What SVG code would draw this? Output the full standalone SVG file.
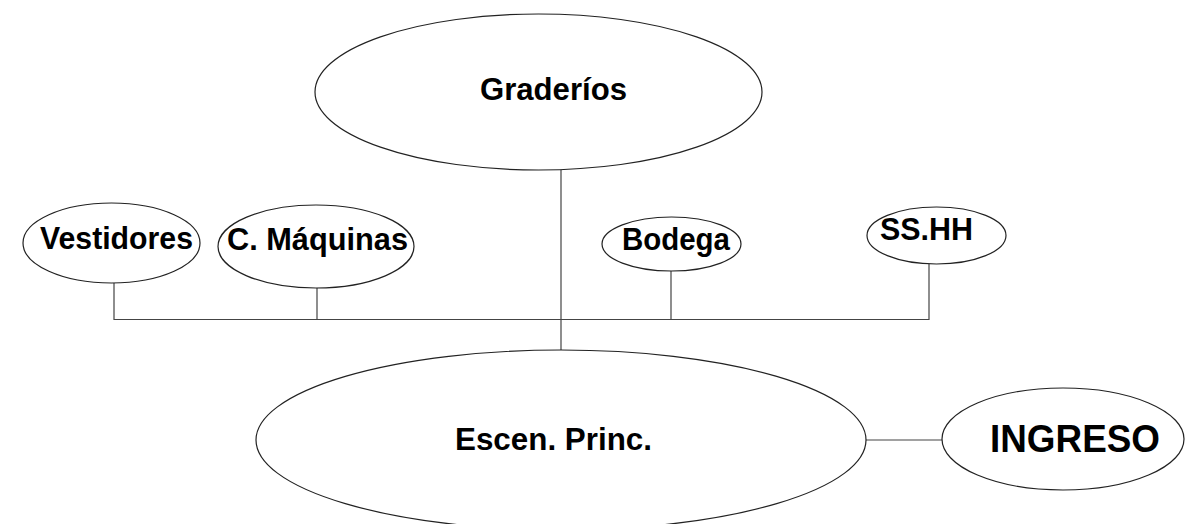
<svg xmlns="http://www.w3.org/2000/svg" width="1186" height="524" viewBox="0 0 1186 524">
<style>
.n{fill:#fff;stroke:#222;stroke-width:1.2}
.t{font-family:"Liberation Sans",Arial,sans-serif;font-weight:bold;font-size:31px;fill:#000;text-anchor:middle}
.c{fill:none;stroke:#444;stroke-width:1.2}
</style>
<rect width="1186" height="524" fill="#fff"/>
<g id="connectors">
<line class="c" x1="561" y1="170" x2="561" y2="351"/>
<polyline class="c" points="114,283 114,319.5 929,319.5 929,264"/>
<line class="c" x1="317" y1="288" x2="317" y2="319.5"/>
<line class="c" x1="671" y1="271" x2="671" y2="319.5"/>
<line class="c" x1="866" y1="440" x2="942" y2="440"/>
</g>
<g id="graderios"><ellipse class="n" cx="538.5" cy="92" rx="223.5" ry="78"/><text class="t" x="553.5" y="100" textLength="147" lengthAdjust="spacingAndGlyphs">Graderíos</text></g>
<g id="vestidores"><ellipse class="n" cx="111.5" cy="243" rx="88.5" ry="40"/><text class="t" x="116.5" y="249" textLength="153" lengthAdjust="spacingAndGlyphs">Vestidores</text></g>
<g id="maquinas"><ellipse class="n" cx="316" cy="246.5" rx="98" ry="41.5"/><text class="t" x="317.5" y="250" textLength="181" lengthAdjust="spacingAndGlyphs">C. Máquinas</text></g>
<g id="bodega"><ellipse class="n" cx="671.5" cy="244" rx="69.5" ry="27"/><text class="t" x="676" y="250" textLength="108" lengthAdjust="spacingAndGlyphs">Bodega</text></g>
<g id="sshh"><ellipse class="n" cx="936.5" cy="235.5" rx="69.5" ry="28.5"/><text class="t" x="926.5" y="240" textLength="93" lengthAdjust="spacingAndGlyphs">SS.HH</text></g>
<g id="escenario"><ellipse class="n" cx="561" cy="440" rx="305" ry="90"/><text class="t" x="553.5" y="450" textLength="197" lengthAdjust="spacingAndGlyphs">Escen. Princ.</text></g>
<g id="ingreso"><ellipse class="n" cx="1063" cy="439" rx="121" ry="51"/><text class="t" x="1075" y="452" style="font-size:38px" textLength="170" lengthAdjust="spacingAndGlyphs">INGRESO</text></g>
</svg>
